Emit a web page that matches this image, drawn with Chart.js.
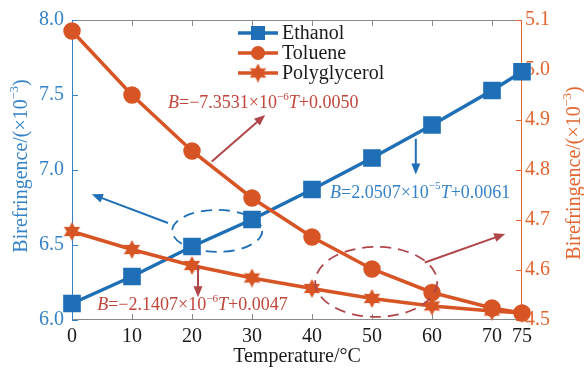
<!DOCTYPE html>
<html>
<head>
<meta charset="utf-8">
<script src="https://cdn.jsdelivr.net/npm/chart.js@4"></script>
<style>
  html, body { margin: 0; padding: 0; background: #fff; }
  #chartWrapper { width: 584px; height: 369px; }
</style>
</head>
<body>
<div id="chartWrapper"><canvas id="myChart"></canvas></div>
<script>
const ctx = document.getElementById('myChart').getContext('2d');

// temperature (°C) and birefringence (x10^-3)
const temperatures = [0, 10, 20, 30, 40, 50, 60, 70, 75];
const ethanol = [6.11, 6.29, 6.49, 6.67, 6.87, 7.08, 7.30, 7.53, 7.655];
const toluene = [5.078, 4.950, 4.838, 4.744, 4.666, 4.602, 4.555, 4.524, 4.514];
const polyglycerol = [4.677, 4.641, 4.609, 4.584, 4.563, 4.543, 4.528, 4.518, 4.514];

const xTicks = [0, 10, 20, 30, 40, 50, 60, 70, 75];
const leftTicks = [6.0, 6.5, 7.0, 7.5, 8.0];
const rightTicks = [4.5, 4.6, 4.7, 4.8, 4.9, 5.0, 5.1];

const BLUE = '#1f6fb6';
const BLUE_AXIS = '#3582c6';
const ORANGE = '#d75424';
const ORANGE_AXIS = '#e2652f';
const RED_NOTE = '#c0453a';
const RED_ARROW = '#b0464a';
const FONT = 'Liberation Serif';

// filled six-pointed star marker
function hexagram(size, color) {
    const c = document.createElement('canvas');
    c.width = size; c.height = size;
    const g = c.getContext('2d');
    const r = size / 2, ri = r * 0.55;
    g.beginPath();
    for (let i = 0; i < 12; i++) {
        const a = -Math.PI / 2 + i * Math.PI / 6;
        const rr = i % 2 === 0 ? r : ri;
        g.lineTo(r + rr * Math.cos(a), r + rr * Math.sin(a));
    }
    g.closePath();
    g.fillStyle = color;
    g.fill();
    return c;
}
const starMarker = hexagram(19, ORANGE);

const pts = (ys) => temperatures.map((t, i) => ({ x: t, y: ys[i] }));

const data = {
    datasets: [
        {
            label: 'Ethanol',
            data: pts(ethanol),
            yAxisID: 'yL',
            order: 1,   // drawn underneath the orange lines
            borderColor: BLUE,
            backgroundColor: BLUE,
            borderWidth: 3.5,
            pointStyle: 'rect',
            pointRadius: 10,
            clip: false
        },
        {
            label: 'Toluene',
            data: pts(toluene),
            yAxisID: 'yR',
            order: 0,
            borderColor: ORANGE,
            backgroundColor: ORANGE,
            borderWidth: 3.5,
            pointStyle: 'circle',
            pointRadius: 7,
            clip: false
        },
        {
            label: 'Polyglycerol',
            data: pts(polyglycerol),
            yAxisID: 'yR',
            order: 0,
            borderColor: ORANGE,
            backgroundColor: ORANGE,
            borderWidth: 3.5,
            pointStyle: starMarker,
            clip: false
        }
    ]
};

// text with italic letters and superscripts
function richText(g, parts, x, y, color, size) {
    g.save();
    g.fillStyle = color;
    g.textBaseline = 'middle';
    g.textAlign = 'left';
    let cx = x;
    parts.forEach(p => {
        const fs = p.sup ? size * 0.62 : size;
        g.font = (p.it ? 'italic ' : '') + fs + 'px "' + FONT + '"';
        g.fillText(p.t, cx, p.sup ? y - size * 0.36 : y);
        cx += g.measureText(p.t).width;
    });
    g.restore();
    return cx - x;
}

function richWidth(g, parts, size) {
    let w = 0;
    parts.forEach(p => {
        const fs = p.sup ? size * 0.62 : size;
        g.font = (p.it ? 'italic ' : '') + fs + 'px "' + FONT + '"';
        w += g.measureText(p.t).width;
    });
    return w;
}

function arrow(g, x1, y1, x2, y2, color) {
    const a = Math.atan2(y2 - y1, x2 - x1);
    const hl = 11, hw = 4.5;
    g.save();
    g.strokeStyle = color;
    g.fillStyle = color;
    g.lineWidth = 2;
    g.beginPath();
    g.moveTo(x1, y1);
    g.lineTo(x2 - hl * 0.8 * Math.cos(a), y2 - hl * 0.8 * Math.sin(a));
    g.stroke();
    g.beginPath();
    g.moveTo(x2, y2);
    g.lineTo(x2 - hl * Math.cos(a) - hw * Math.sin(a), y2 - hl * Math.sin(a) + hw * Math.cos(a));
    g.lineTo(x2 - hl * Math.cos(a) + hw * Math.sin(a), y2 - hl * Math.sin(a) - hw * Math.cos(a));
    g.closePath();
    g.fill();
    g.restore();
}

function dashedEllipse(g, cx, cy, rx, ry, color) {
    g.save();
    g.strokeStyle = color;
    g.lineWidth = 1.8;
    g.setLineDash([11, 7]);
    g.beginPath();
    g.ellipse(cx, cy, rx, ry, 0, 0, Math.PI * 2);
    g.stroke();
    g.restore();
}

const framePlugin = {
    id: 'frame',
    beforeDatasetsDraw(chart) {
        const g = chart.ctx;
        const { left, right, top, bottom } = chart.chartArea;
        const sx = chart.scales.x, sl = chart.scales.yL, sr = chart.scales.yR;
        g.save();
        g.lineWidth = 1;
        // top and bottom edges with inward ticks
        g.strokeStyle = '#8a8a8a';
        g.beginPath();
        g.moveTo(left, top + 0.5); g.lineTo(right, top + 0.5);
        g.moveTo(left, bottom - 0.5); g.lineTo(right, bottom - 0.5);
        xTicks.forEach(v => {
            if (v === 0 || v === 75) return;
            const px = Math.round(sx.getPixelForValue(v)) + 0.5;
            g.moveTo(px, top); g.lineTo(px, top + 6);
            g.moveTo(px, bottom); g.lineTo(px, bottom - 6);
        });
        g.stroke();
        // left axis
        g.strokeStyle = BLUE_AXIS;
        g.beginPath();
        g.moveTo(left + 0.5, top); g.lineTo(left + 0.5, bottom);
        leftTicks.forEach(v => {
            const py = Math.round(sl.getPixelForValue(v)) + 0.5;
            g.moveTo(left, py); g.lineTo(left + 6, py);
        });
        g.stroke();
        // right axis
        g.strokeStyle = ORANGE_AXIS;
        g.beginPath();
        g.moveTo(right - 0.5, top); g.lineTo(right - 0.5, bottom);
        rightTicks.forEach(v => {
            const py = Math.round(sr.getPixelForValue(v)) + 0.5;
            g.moveTo(right, py); g.lineTo(right - 6, py);
        });
        g.stroke();
        g.restore();
    },
    afterDraw(chart) {
        const g = chart.ctx;
        const sx = chart.scales.x, sl = chart.scales.yL;
        const X = v => sx.getPixelForValue(v);
        const Y = v => sl.getPixelForValue(v);

        // fitted-line notes
        richText(g, [{ t: 'B', it: true }, { t: '=−7.3531×10' }, { t: '−6', sup: true }, { t: 'T', it: true }, { t: '+0.0050' }],
            X(16), Y(7.446), RED_NOTE, 18);
        arrow(g, X(23.3), Y(7.057), X(32.2), Y(7.367), RED_ARROW);

        arrow(g, X(57.3), Y(7.208), X(57.3), Y(6.970), BLUE);
        richText(g, [{ t: 'B', it: true }, { t: '=2.0507×10' }, { t: '−5', sup: true }, { t: 'T', it: true }, { t: '+0.0061' }],
            X(43), Y(6.848), BLUE_AXIS, 18);

        dashedEllipse(g, X(24.2), Y(6.594), 45, 21, BLUE);
        arrow(g, X(16), Y(6.647), X(3.3), Y(6.838), BLUE);

        arrow(g, X(21), Y(6.363), X(21), Y(6.152), RED_ARROW);
        richText(g, [{ t: 'B', it: true }, { t: '=−2.1407×10' }, { t: '−6', sup: true }, { t: 'T', it: true }, { t: '+0.0047' }],
            X(4.2), Y(6.099), RED_NOTE, 18);

        dashedEllipse(g, X(50.7), Y(6.254), 61, 35, RED_ARROW);
        arrow(g, X(58.8), Y(6.383), X(72.2), Y(6.574), RED_ARROW);

        // legend
        const items = [
            { label: 'Ethanol', color: BLUE, marker: 'rect' },
            { label: 'Toluene', color: ORANGE, marker: 'circle' },
            { label: 'Polyglycerol', color: ORANGE, marker: 'star' }
        ];
        items.forEach((it, i) => {
            const y = 33 + i * 20;
            g.save();
            g.strokeStyle = it.color;
            g.fillStyle = it.color;
            g.lineWidth = 3.5;
            g.beginPath(); g.moveTo(238, y); g.lineTo(278, y); g.stroke();
            if (it.marker === 'rect') g.fillRect(251, y - 7, 14, 14);
            else if (it.marker === 'circle') { g.beginPath(); g.arc(258, y, 7, 0, Math.PI * 2); g.fill(); }
            else g.drawImage(starMarker, 258 - 9.5, y - 9.5);
            g.fillStyle = '#1a1a1a';
            g.font = '20px "' + FONT + '"';
            g.textBaseline = 'middle';
            g.fillText(it.label, 282, y + 1);
            g.restore();
        });

        // axis titles
        const titleParts = [{ t: 'Birefringence/(×10' }, { t: '−3', sup: true }, { t: ')' }];
        const tw = richWidth(g, titleParts, 20);
        g.save();
        g.translate(22, 166); g.rotate(-Math.PI / 2);
        richText(g, titleParts, -tw / 2, 0, BLUE_AXIS, 20);
        g.restore();
        g.save();
        g.translate(575, 173); g.rotate(-Math.PI / 2);
        richText(g, titleParts, -tw / 2, 0, ORANGE_AXIS, 20);
        g.restore();

        g.save();
        g.fillStyle = '#1a1a1a';
        g.font = '20px "' + FONT + '"';
        g.textAlign = 'center';
        g.textBaseline = 'middle';
        g.fillText('Temperature/°C', (chart.chartArea.left + chart.chartArea.right) / 2, 357);
        g.restore();
    }
};

const tickFont = { family: FONT, size: 20 };

const myChart = new Chart(ctx, {
    type: 'line',
    data: data,
    plugins: [framePlugin],
    options: {
        responsive: true,
        maintainAspectRatio: false,
        animation: false,
        layout: { padding: { top: 17, left: 0, right: 0, bottom: 0 } },
        plugins: {
            legend: { display: false },
            tooltip: { enabled: false }
        },
        scales: {
            x: {
                type: 'linear',
                min: 0,
                max: 75,
                afterBuildTicks: s => { s.ticks = xTicks.map(v => ({ value: v })); },
                afterFit: s => { s.height = 49; },
                grid: { display: false, drawTicks: false },
                border: { display: false },
                ticks: { autoSkip: false, maxRotation: 0, padding: 5, color: '#1a1a1a', font: tickFont }
            },
            yL: {
                position: 'left',
                min: 6,
                max: 8,
                afterBuildTicks: s => { s.ticks = leftTicks.map(v => ({ value: v })); },
                afterFit: s => { s.width = 72; },
                grid: { display: false, drawTicks: false },
                border: { display: false },
                ticks: { padding: 8, color: BLUE_AXIS, font: tickFont, callback: v => v.toFixed(1) }
            },
            yR: {
                position: 'right',
                min: 4.5,
                max: 5.1,
                afterBuildTicks: s => { s.ticks = rightTicks.map(v => ({ value: v })); },
                afterFit: s => { s.width = 62; },
                grid: { display: false, drawTicks: false },
                border: { display: false },
                ticks: { padding: 3, color: ORANGE_AXIS, font: tickFont, callback: v => v.toFixed(1) }
            }
        }
    }
});
</script>
</body>
</html>
